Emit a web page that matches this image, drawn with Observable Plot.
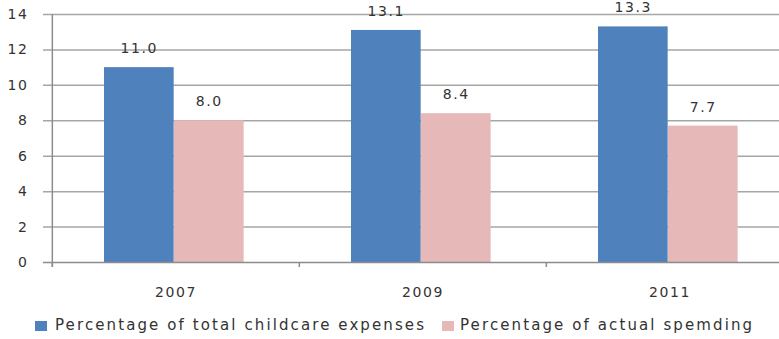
<!DOCTYPE html>
<html><head><meta charset="utf-8">
<script src="https://cdn.jsdelivr.net/npm/d3@7"></script>
<script src="https://cdn.jsdelivr.net/npm/@observablehq/plot@0.6"></script>
<style>
body{margin:0;background:#fff;font-family:"DejaVu Sans",sans-serif;overflow:hidden;}
#chart svg{overflow:hidden;display:block}
#chart svg text{letter-spacing:1.6px}
.legend{position:relative;height:29px;font-size:15px;color:#333;letter-spacing:2.1px;white-space:nowrap}
.legend .sw{position:absolute;top:11px;width:12px;height:10px}
.legend .lt{position:absolute;top:6px;line-height:18px}
</style></head><body><div id="chart"></div><script>
const years = ["2007", "2009", "2011"];
const series = ["Percentage of total childcare expenses", "Percentage of actual spemding"];
const totalValues = [11.0, 13.1, 13.3];
const actualValues = [8.0, 8.4, 7.7];
const yTicks = [0, 2, 4, 6, 8, 10, 12, 14];
const colors = ["#4f81bd", "#e6b9b8"];

const data = years.flatMap((y, i) => [
  {year: y, series: series[0], value: totalValues[i]},
  {year: y, series: series[1], value: actualValues[i]}
]);

const W = 779, H = 310, mL = 51, mR = -14, mT = 14, mB = 48;
const bw = (W - mL - mR) / years.length;
const plotH = H - mT - mB;
const s0 = data.filter(d => d.series === series[0]);
const s1 = data.filter(d => d.series === series[1]);

const chart = Plot.plot({
  width: W, height: H,
  marginLeft: mL, marginRight: mR, marginTop: mT, marginBottom: mB,
  style: {fontFamily: "DejaVu Sans", fontSize: "14px", color: "#333", background: "#fff", overflow: "hidden"},
  x: {domain: years, padding: 0, tickSize: 0, tickPadding: 25, label: null},
  y: {domain: [0, 14], ticks: yTicks, tickSize: 0, tickPadding: 23, label: null, tickFormat: d => d},
  marks: [
    Plot.ruleY(yTicks.slice(1), {stroke: "#a6a6a6", strokeWidth: 1.5, insetLeft: -8}),
    Plot.barY(s0, {x: "year", y: "value", fill: colors[0], insetLeft: 52, insetRight: bw - 122}),
    Plot.barY(s1, {x: "year", y: "value", fill: colors[1], insetLeft: 122, insetRight: bw - 192}),
    Plot.text(s0, {x: "year", y: "value", text: d => d.value.toFixed(1), dx: 87 - bw / 2, dy: -19, fill: "#333"}),
    Plot.text(s1, {x: "year", y: "value", text: d => d.value.toFixed(1), dx: 157 - bw / 2, dy: -19, fill: "#333"}),
    Plot.ruleY([0], {stroke: "#8c8c8c", strokeWidth: 1.5, insetLeft: -8}),
    Plot.ruleX(years.slice(0, 1), {x: d => d, dx: -bw / 2, stroke: "#8c8c8c", strokeWidth: 1.5, insetBottom: -5}),
    Plot.ruleX(years, {x: d => d, dx: -bw / 2, stroke: "#8c8c8c", strokeWidth: 1.5, insetTop: plotH, insetBottom: -5})
  ]
});
document.getElementById("chart").appendChild(chart);

const legendPos = [{sw: 35, text: 55}, {sw: 442, text: 460}];
const legend = document.createElement("div");
legend.className = "legend";
series.forEach((s, i) => {
  const sw = document.createElement("span");
  sw.className = "sw";
  sw.style.left = legendPos[i].sw + "px";
  sw.style.background = colors[i];
  const t = document.createElement("span");
  t.className = "lt";
  t.style.left = legendPos[i].text + "px";
  t.textContent = s;
  legend.appendChild(sw);
  legend.appendChild(t);
});
document.getElementById("chart").appendChild(legend);
</script></body></html>
